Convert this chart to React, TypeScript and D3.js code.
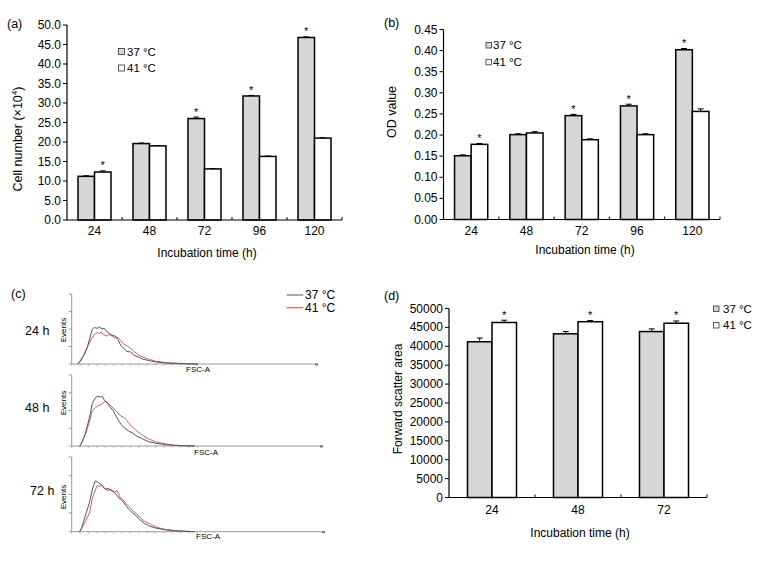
import React from 'react';
import * as d3 from 'd3';

// ---------- Data ----------
const hours5 = ['24', '48', '72', '96', '120'];
const hours3 = ['24', '48', '72'];

// (a) Cell number (x10^4)
const cell37 = [11.2, 19.6, 26.0, 31.8, 46.8];
const cell37Err = [0.15, 0.15, 0.4, 0.15, 0.15];
const cell41 = [12.3, 19.0, 13.1, 16.3, 21.0];
const cell41Err = [0.3, 0.1, 0.1, 0.1, 0.1];
const cellStar37 = [false, false, true, true, true];
const cellStar41 = [true, false, false, false, false];

// (b) OD value
const od37 = [0.151, 0.201, 0.246, 0.269, 0.402];
const od37Err = [0.002, 0.002, 0.003, 0.004, 0.003];
const od41 = [0.178, 0.205, 0.189, 0.201, 0.256];
const od41Err = [0.002, 0.003, 0.002, 0.002, 0.006];
const odStar37 = [false, false, true, true, true];
const odStar41 = [true, false, false, false, false];

// (d) Forward scatter area
const fsc37 = [41200, 43300, 43900];
const fsc37Err = [1000, 600, 700];
const fsc41 = [46300, 46500, 46100];
const fsc41Err = [600, 300, 600];
const fscStar37 = [false, false, false];
const fscStar41 = [true, true, true];

// (c) FSC-A histograms: [channel, % of max events]
const hist24_37: [number, number][] = [[6,0],[8,3],[12,12],[16,25],[19,40],[21,50],[23,52],[26,51],[28,53],[31,50],[33,51],[35,47],[38,44],[41,41],[44,40],[47,35],[50,26],[53,22],[56,18],[60,17],[64,12],[68,10],[72,7],[78,5],[85,3],[95,1.5],[110,0.5],[128,0]];
const hist24_41: [number, number][] = [[6,0],[9,4],[13,14],[17,27],[20,36],[23,42],[26,45],[28,43],[30,46],[32,42],[35,40],[38,42],[41,40],[44,37],[47,38],[50,33],[53,28],[56,26],[60,22],[64,17],[68,13],[72,10],[78,7],[85,4],[95,2],[110,0.8],[128,0]];
const hist48_37: [number, number][] = [[8,0],[10,4],[14,18],[18,40],[21,60],[24,68],[26,70],[29,69],[31,70],[33,65],[36,60],[39,55],[42,50],[45,42],[48,35],[51,29],[54,25],[58,21],[62,18],[66,14],[72,10],[78,6],[85,4],[95,2],[108,0.6],[125,0]];
const hist48_41: [number, number][] = [[8,0],[10,4],[14,17],[18,34],[21,50],[24,54],[27,57],[30,58],[33,62],[35,63],[38,59],[41,55],[44,50],[47,47],[50,42],[53,40],[56,36],[59,30],[63,25],[67,20],[72,15],[78,10],[85,6],[95,3],[105,1],[125,0]];
const hist72_37: [number, number][] = [[8,0],[10,5],[14,22],[18,39],[21,57],[24,68],[26,67],[29,64],[31,62],[34,57],[37,58],[40,55],[42,54],[45,50],[48,45],[51,42],[55,35],[58,30],[61,26],[65,22],[69,16],[74,11],[78,8],[85,5],[95,2.5],[108,1],[125,0]];
const hist72_41: [number, number][] = [[8,0],[10,4],[14,14],[18,25],[21,45],[23,52],[26,62],[28,60],[30,63],[33,58],[36,55],[40,57],[43,53],[46,55],[49,46],[52,43],[55,38],[58,34],[62,28],[66,24],[70,18],[74,14],[80,10],[86,6],[95,3],[108,1],[125,0]];
const histTimes = ['24 h', '48 h', '72 h'];

const legendLabels = ['37 °C', '41 °C'];

const FONT = '"Liberation Sans", Arial, sans-serif';
const GRAY = '#d6d6d6';

type BarProps = {
  cats: string[];
  a: number[]; ae: number[]; b: number[]; be: number[];
  sa: boolean[]; sb: boolean[];
  yMax: number; step: number; fmt: (v: number) => string;
  L: number; R: number; B: number; T: number; frac: number;
  tickLabelY: number;
  title: string; titleX: number; titleY: number;
  xTitleX: number; xTitleY: number;
  yTitle: React.ReactNode; yTitleX: number; yTitleY: number; yTitleSize: number;
  legX: number; legY: number; legTextX: number; legGap: number; legSize: number;
};

function BarPanel(p: BarProps) {
  const x = d3.scaleBand<string>().domain(p.cats).range([p.L, p.R]);
  const y = d3.scaleLinear().domain([0, p.yMax]).range([p.B, p.T]);
  const ticks = d3.range(0, p.yMax + p.step / 2, p.step);
  const bw = x.bandwidth() * p.frac;
  const bars: React.ReactNode[] = [];
  p.cats.forEach((c, i) => {
    const cx = (x(c) as number) + x.bandwidth() / 2;
    const series = [
      { v: p.a[i], e: p.ae[i], s: p.sa[i], x0: cx - bw, fill: GRAY },
      { v: p.b[i], e: p.be[i], s: p.sb[i], x0: cx, fill: '#fff' },
    ];
    series.forEach((d, j) => {
      const top = y(d.v);
      const et = y(d.v + d.e);
      const mx = d.x0 + bw / 2;
      bars.push(
        <g key={`${c}-${j}`}>
          <line x1={mx} x2={mx} y1={top} y2={et} stroke="#000" strokeWidth={1} />
          <line x1={mx - 3} x2={mx + 3} y1={et} y2={et} stroke="#000" strokeWidth={1} />
          <rect x={d.x0} y={top} width={bw} height={p.B - top} fill={d.fill} stroke="#000" strokeWidth={1.5} />
          {d.s && (
            <text x={mx} y={et - 1.5} textAnchor="middle" fontSize={11} fontFamily={FONT}>*</text>
          )}
        </g>
      );
    });
  });
  return (
    <g fontFamily={FONT}>
      <text x={p.titleX} y={p.titleY} fontSize={12.5}>{p.title}</text>
      {bars}
      <line x1={p.L} x2={p.L} y1={p.B} y2={p.T} stroke="#000" strokeWidth={1.2} />
      <line x1={p.L} x2={p.R} y1={p.B} y2={p.B} stroke="#000" strokeWidth={1.2} />
      {ticks.map((t) => (
        <g key={t}>
          <line x1={p.L - 4} x2={p.L} y1={y(t)} y2={y(t)} stroke="#000" />
          <text x={p.L - 6} y={y(t) + 4} textAnchor="end" fontSize={12}>{p.fmt(t)}</text>
        </g>
      ))}
      {p.cats.map((c) => (
        <g key={c}>
          <line x1={(x(c) as number) + x.bandwidth()} x2={(x(c) as number) + x.bandwidth()} y1={p.B} y2={p.B - 3} stroke="#000" />
          <text x={(x(c) as number) + x.bandwidth() / 2} y={p.tickLabelY} textAnchor="middle" fontSize={12}>{c}</text>
        </g>
      ))}
      <text x={p.xTitleX} y={p.xTitleY} textAnchor="middle" fontSize={12}>Incubation time (h)</text>
      <text transform={`translate(${p.yTitleX},${p.yTitleY}) rotate(-90)`} textAnchor="middle" fontSize={p.yTitleSize}>{p.yTitle}</text>
      {legendLabels.map((l, i) => (
        <g key={l}>
          <rect x={p.legX} y={p.legY + i * p.legGap} width={p.legSize} height={p.legSize} fill={i === 0 ? GRAY : '#fff'} stroke="#333" strokeWidth={0.8} />
          <text x={p.legTextX} y={p.legY + i * p.legGap + p.legSize + 1} fontSize={11.5}>{l}</text>
        </g>
      ))}
    </g>
  );
}

type HistProps = {
  top: number; bottom: number; right: number;
  d37: [number, number][]; d41: [number, number][];
  label: string; labelX: number; labelY: number;
  eventsY: number; fscX: number; fscY: number;
};

function HistPanel(p: HistProps) {
  const L = 71.7;
  const x = d3.scaleLinear().domain([0, 250]).range([L, L + 250 * 0.985]);
  const y = d3.scaleLinear().domain([0, 100]).range([p.bottom, p.top]);
  const line = d3.line<[number, number]>().x((d) => x(d[0])).y((d) => y(d[1]));
  const yt = [0, 25, 50, 75, 100];
  const xt = d3.range(0, 135, 8.5);
  return (
    <g fontFamily={FONT}>
      <line x1={L} x2={L} y1={p.bottom} y2={p.top} stroke="#999" strokeWidth={1} />
      <line x1={L} x2={p.right} y1={p.bottom} y2={p.bottom} stroke="#999" strokeWidth={1} />
      {yt.map((t) => (
        <line key={t} x1={L - 3} x2={L} y1={y(t)} y2={y(t)} stroke="#999" />
      ))}
      {xt.map((t) => (
        <line key={t} x1={x(t)} x2={x(t)} y1={p.bottom} y2={p.bottom + 2} stroke="#aaa" strokeWidth={0.8} />
      ))}
      <line x1={p.right - 3} x2={p.right} y1={p.bottom + 0.5} y2={p.bottom + 0.5} stroke="#777" strokeWidth={2} />
      <path d={line(p.d41) || ''} fill="none" stroke="#d06060" strokeWidth={1} />
      <path d={line(p.d37) || ''} fill="none" stroke="#555" strokeWidth={1} />
      <text x={p.labelX} y={p.labelY} fontSize={12.5}>{p.label}</text>
      <text transform={`translate(${66},${p.eventsY}) rotate(-90)`} textAnchor="middle" fontSize={8}>Events</text>
      <text x={p.fscX} y={p.fscY} textAnchor="middle" fontSize={8}>FSC-A</text>
    </g>
  );
}

export default function App() {
  const f1 = d3.format('.1f');
  const f2 = d3.format('.2f');
  const f0 = d3.format('d');
  return (
    <svg width={763} height={561} style={{ position: 'absolute', left: 0, top: 0, background: '#fff' }}>
      <rect width={763} height={561} fill="#fff" />
      <BarPanel
        cats={hours5} a={cell37} ae={cell37Err} b={cell41} be={cell41Err} sa={cellStar37} sb={cellStar41}
        yMax={50} step={5} fmt={f1} L={67} R={342} B={220} T={25} frac={0.3}
        tickLabelY={235} title="(a)" titleX={7} titleY={28}
        xTitleX={207} xTitleY={257}
        yTitle={<>Cell number (×10<tspan dy={-5} fontSize={8}>4</tspan><tspan dy={5}>)</tspan></>}
        yTitleX={22} yTitleY={139} yTitleSize={12.5}
        legX={118.5} legY={48.5} legTextX={127} legGap={16.5} legSize={6}
      />
      <BarPanel
        cats={hours5} a={od37} ae={od37Err} b={od41} be={od41Err} sa={odStar37} sb={odStar41}
        yMax={0.45} step={0.05} fmt={f2} L={443.5} R={720} B={219.5} T={29.5} frac={0.3}
        tickLabelY={235} title="(b)" titleX={384} titleY={27}
        xTitleX={585} xTitleY={254}
        yTitle="OD value" yTitleX={395.5} yTitleY={112} yTitleSize={12.5}
        legX={486} legY={42.5} legTextX={493} legGap={16.8} legSize={5.5}
      />
      <BarPanel
        cats={hours3} a={fsc37} ae={fsc37Err} b={fsc41} be={fsc41Err} sa={fscStar37} sb={fscStar41}
        yMax={50000} step={5000} fmt={f0} L={449} R={707} B={497.5} T={308.5} frac={0.285}
        tickLabelY={514} title="(d)" titleX={384} titleY={300}
        xTitleX={580} xTitleY={537}
        yTitle="Forward scatter area" yTitleX={402} yTitleY={399} yTitleSize={12}
        legX={713.5} legY={306} legTextX={723} legGap={16.5} legSize={5.5}
      />
      <g fontFamily={FONT}>
        <text x={11} y={298} fontSize={12.5}>(c)</text>
        <line x1={286.7} x2={303.3} y1={295} y2={295} stroke="#555" strokeWidth={1} />
        <text x={305} y={299} fontSize={12}>{legendLabels[0]}</text>
        <line x1={286.7} x2={303.3} y1={307.7} y2={307.7} stroke="#d06060" strokeWidth={1.2} />
        <text x={305} y={312} fontSize={12}>{legendLabels[1]}</text>
      </g>
      <HistPanel top={294} bottom={364} right={318} d37={hist24_37} d41={hist24_41}
        label={histTimes[0]} labelX={25} labelY={335} eventsY={330} fscX={198} fscY={372} />
      <HistPanel top={375} bottom={446} right={323} d37={hist48_37} d41={hist48_41}
        label={histTimes[1]} labelX={25} labelY={412} eventsY={403} fscX={206} fscY={455} />
      <HistPanel top={457} bottom={531.7} right={325} d37={hist72_37} d41={hist72_41}
        label={histTimes[2]} labelX={30} labelY={495} eventsY={497} fscX={208} fscY={539} />
    </svg>
  );
}
